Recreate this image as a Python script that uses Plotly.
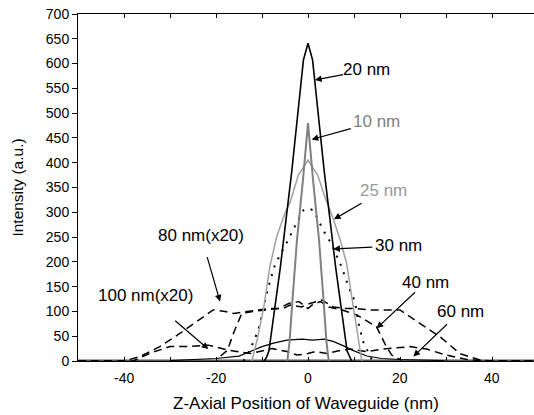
import plotly.graph_objects as go

# ---- data ----
z_10 = [-4.5, -4.0, -3.4, -2.4, -1.1, 0.0, 1.1, 2.4, 3.4, 4.0, 4.5]
i_10 = [0, 40, 120, 244, 365, 480, 365, 244, 120, 40, 0]

z_20 = [-9.5, -9.0, -8.5, -6.0, -3.5, -1.0, 0.0, 1.0, 3.5, 6.0, 8.5, 9.0, 9.5]
i_20 = [0, 8, 20, 190, 385, 607, 641, 607, 385, 190, 20, 8, 0]

z_25 = [-12.2, -11.0, -9.6, -8.3, -6.8, -5.0, -3.9, -2.1, 0.0, 2.1, 3.9, 5.3, 7.0, 8.4, 9.5, 10.6, 11.7]
i_25 = [0, 45, 109, 190, 251, 298, 320, 375, 405, 375, 325, 292, 244, 197, 130, 60, 0]

z_30 = [-14.0, -12.5, -10.8, -9.3, -8.6, -7.2, -6.3, -4.3, -3.3, -1.0, 0.0, 1.2, 3.3, 5.0, 7.3, 8.8, 10.2, 11.0, 12.0, 14.0]
i_30 = [0, 25, 62, 120, 150, 193, 210, 244, 264, 304, 308, 304, 264, 238, 190, 150, 120, 75, 39, 0]

z_40 = [-19.0, -17.5, -16.2, -14.4, -12.0, -8.5, -6.4, -4.2, -2.0, 0.0, 0.9, 2.7, 4.5, 7.4, 10.6, 14.9, 16.7, 18.2, 20.0]
i_40 = [10, 22, 56, 96, 100, 103, 106, 116, 120, 106, 113, 120, 109, 103, 93, 69, 35, 12, 3]

z_60 = [-30.0, -20.0, -15.0, -12.6, -10.0, -7.5, -4.6, -1.3, 1.0, 3.5, 5.6, 8.1, 9.6, 12.8, 16.0, 20.0, 29.6]
i_60 = [1, 5, 10, 19, 29, 36, 42, 44, 42, 44, 39, 29, 22, 10, 5, 3, 1]

z_80 = [-50.0, -40.0, -36.5, -32.2, -27.8, -23.5, -20.6, -18.0, -16.2, -14.0, -11.2, -8.3, -5.4, -3.9, -1.4,
        0.4, 3.0, 5.5, 8.0, 10.2, 13.5, 20.0, 24.3, 28.7, 33.0, 37.4, 40.0, 50.0]
i_80 = [0, 0, 9, 29, 56, 83, 103, 100, 96, 99, 103, 106, 106, 113, 109,
        116, 123, 109, 106, 106, 103, 103, 76, 49, 15, 2, 0, 0]

z_100 = [-50.0, -38.0, -34.3, -30.0, -26.4, -21.7, -17.3, -15.5, -12.6, -7.8, -4.6, -2.4, 0.0, 1.6, 4.1,
         7.4, 9.2, 12.8, 16.3, 22.2, 25.8, 30.0, 34.5, 38.8, 50.0]
i_100 = [0, 0, 16, 29, 29, 32, 22, 19, 15, 25, 19, 12, 15, 19, 15,
         22, 24, 19, 24, 29, 24, 12, 3, 0, 0]

x_ticks = [-50, -40, -30, -20, -10, 0, 10, 20, 30, 40]
x_label_vals = [-40, -20, 0, 20, 40]
x_label_text = ["-40", "-20", "0", "20", "40"]
y_ticks = list(range(0, 701, 50))

# labels: text, arrow tip (x, y), text-centre offset (px), tail standoff (px), colour
label_text = ["20 nm", "10 nm", "25 nm", "30 nm", "40 nm", "60 nm", "80 nm(x20)", "100 nm(x20)"]
label_tip_x = [1.52, 0.80, 5.65, 5.5, 14.93, 22.9, -19.13, -21.67]
label_tip_y = [567, 447, 286, 226, 66, 9, 120, 24]
label_dx = [52, 65, 50, 65, 49, 47, -19, -63]
label_dy = [-10, -18, -29, -3, -46, -45, -66, -54]
label_gap = [0, 2, 6, 2, 0, 4, 12, 24]
label_color = ["#000000", "#808080", "#999999", "#000000", "#000000", "#000000", "#000000", "#000000"]

FONT = "Liberation Sans, Arial, sans-serif"

fig = go.Figure()

def add(z, i, color, width, dash):
    fig.add_trace(go.Scatter(x=z, y=i, mode="lines",
                             line=dict(color=color, width=width, dash=dash),
                             showlegend=False, hoverinfo="skip"))

add(z_100, i_100, "#000000", 1.5, "8px,5px")
add(z_80, i_80, "#000000", 1.5, "8px,5px")
add(z_40, i_40, "#000000", 1.5, "8px,5px")
add(z_60, i_60, "#000000", 1.2, "solid")
add(z_30, i_30, "#000000", 2, "2px,7px")
add(z_25, i_25, "#a0a0a0", 1.5, "solid")
add(z_10, i_10, "#808080", 2, "solid")
add(z_20, i_20, "#000000", 1.6, "solid")

# thick grey baseline
fig.add_shape(type="line", xref="paper", yref="y", x0=0, x1=1, y0=0, y1=0,
              line=dict(color="#555555", width=3), layer="below")

for t, x, y, dx, dy, g, c in zip(label_text, label_tip_x, label_tip_y, label_dx, label_dy, label_gap, label_color):
    fig.add_annotation(x=x, y=y, ax=dx, ay=dy, text=t, showarrow=True,
                       arrowhead=2, arrowsize=1.1, arrowwidth=1.2, arrowcolor="#000000",
                       startstandoff=g, borderpad=0,
                       font=dict(size=17, color=c, family=FONT))

# x tick labels
for v, t in zip(x_label_vals, x_label_text):
    fig.add_annotation(x=v, y=0, xref="x", yref="paper", text=t, showarrow=False,
                       xanchor="center", yanchor="middle", yshift=-17, borderpad=0,
                       font=dict(size=14, color="#000000", family=FONT))

# x axis title
fig.add_annotation(x=0.5, y=0, xref="paper", yref="paper", text="Z-Axial Position of Waveguide (nm)",
                   showarrow=False, xanchor="center", yanchor="middle", yshift=-42, borderpad=0,
                   font=dict(size=17, color="#000000", family=FONT))

fig.update_layout(
    width=534, height=415,
    margin=dict(l=78, r=0, t=14, b=54),
    paper_bgcolor="white", plot_bgcolor="white",
    font=dict(family=FONT, color="#000000", size=14),
    xaxis=dict(range=[-50, 49.13], tickvals=x_ticks, showticklabels=False,
               ticks="inside", ticklen=4, tickwidth=1, tickcolor="#000000",
               showline=True, linecolor="#000000", linewidth=1, mirror="ticks",
               showgrid=False, zeroline=False),
    yaxis=dict(range=[0, 700], tickvals=y_ticks,
               ticks="outside", ticklen=5, tickwidth=1, tickcolor="#000000",
               showline=True, linecolor="#000000", linewidth=1,
               showgrid=False, zeroline=False,
               tickfont=dict(size=14),
               title=dict(text="Intensity (a.u.)", font=dict(size=15.5), standoff=18)),
)

fig.write_html("out.html", config={"displayModeBar": False},
               post_script="document.body.style.margin='0';")
